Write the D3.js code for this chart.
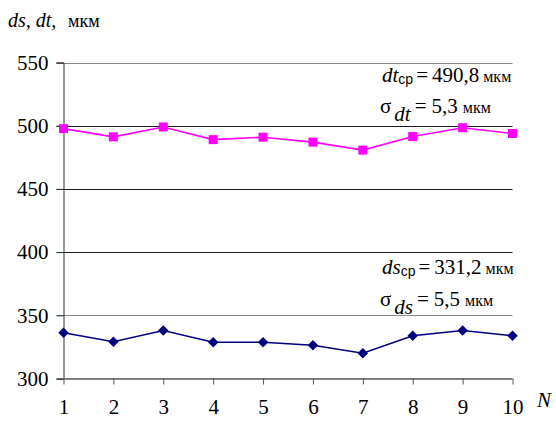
<!DOCTYPE html>
<html>
<head>
<meta charset="utf-8">
<script src="https://cdn.jsdelivr.net/npm/d3@7"></script>
<style>
  html, body { margin: 0; padding: 0; background: #fff; }
  svg { display: block; }
  svg text { font-family: 'Liberation Serif', 'Times New Roman', Times, serif; fill: #000; }
</style>
</head>
<body>
<svg id="chart" width="556" height="423"></svg>
<script>
// Sample numbers N = 1..10
const samples = [1, 2, 3, 4, 5, 6, 7, 8, 9, 10];
// dt values, мкм
const dtValues = [497.7, 491.2, 499.0, 489.0, 490.9, 487.0, 480.7, 491.4, 498.4, 493.8];
// ds values, мкм
const dsValues = [336.2, 329.1, 338.0, 328.7, 328.7, 326.3, 320.0, 333.8, 338.0, 333.8];
// Y axis tick values
const yTicks = [300, 350, 400, 450, 500, 550];
// Summary statistics shown beside each series
const dtStats = { mean: "490,8", sigma: "5,3" };
const dsStats = { mean: "331,2", sigma: "5,5" };

const SERIF = "'Liberation Serif', 'Times New Roman', Times, serif";
const SANS = "'Liberation Sans', Arial, sans-serif";

const svg = d3.select("#chart");

const x = d3.scaleLinear().domain([1, 10]).range([63.5, 512.5]);
const y = d3.scaleLinear().domain([300, 550]).range([378.5, 62.5]);

// Horizontal grid lines
svg.append("g")
  .selectAll("line")
  .data(yTicks)
  .join("line")
  .attr("x1", x(1) - 7).attr("x2", x(10))
  .attr("y1", d => Math.round(y(d)) + 0.5).attr("y2", d => Math.round(y(d)) + 0.5)
  .attr("stroke", d => (d === 550 || d === 350 || d === 300) ? "#8a8a8a" : "#1a1a1a")
  .attr("stroke-width", 1);

// Y axis
const yAxis = d3.axisLeft(y).tickValues(yTicks).tickSize(7).tickPadding(8).tickFormat(d3.format("d"));
const gy = svg.append("g").attr("transform", `translate(${x(1)},0)`).call(yAxis)
  .attr("font-family", SERIF).attr("font-size", 21);
gy.select(".domain").attr("stroke", "#333");
gy.selectAll(".tick line").attr("stroke", "#333");
gy.selectAll(".tick text").style("font-family", SERIF).attr("fill", "#000");

// X axis
const xAxis = d3.axisBottom(x).tickValues(samples).tickSize(6).tickPadding(15).tickFormat(d3.format("d"));
const gx = svg.append("g").attr("transform", `translate(0,${y(300)})`).call(xAxis)
  .attr("font-family", SERIF).attr("font-size", 21);
gx.select(".domain").attr("stroke", "#777").attr("d", `M${x(1)},0H${x(10)}`);
gx.selectAll(".tick line").attr("stroke", "#555");
gx.selectAll(".tick text").style("font-family", SERIF).attr("fill", "#000");

// Axis titles
svg.append("text").attr("x", 537).attr("y", 407).style("font-family", SERIF)
  .attr("font-size", 21).attr("font-style", "italic").text("N");

const yt = svg.append("text").attr("x", 8).attr("y", 27).style("font-family", SERIF).attr("font-size", 20);
yt.append("tspan").attr("font-style", "italic").text("ds, dt,");
yt.append("tspan").attr("x", 68).attr("font-size", 18).text("мкм");

// Series lines and markers
const line = d3.line().x((d, i) => x(samples[i])).y(d => y(d));

svg.append("path").datum(dtValues)
  .attr("d", line).attr("fill", "none")
  .attr("stroke", "#ff00ff").attr("stroke-width", 1.6);
svg.append("g").selectAll("rect").data(dtValues).join("rect")
  .attr("x", (d, i) => x(samples[i]) - 4.5)
  .attr("y", d => y(d) - 4.5)
  .attr("width", 9).attr("height", 9)
  .attr("fill", "#ff00ff");

svg.append("path").datum(dsValues)
  .attr("d", line).attr("fill", "none")
  .attr("stroke", "#000080").attr("stroke-width", 1.6);
const diamond = d3.symbol().type(d3.symbolDiamond2).size(70);
svg.append("g").selectAll("path").data(dsValues).join("path")
  .attr("d", diamond)
  .attr("transform", (d, i) => `translate(${x(samples[i])},${y(d)})`)
  .attr("fill", "#000080");

// Statistics labels
function statBlock(name, stats, xStart, yMean, ySigma) {
  const t1 = svg.append("text").attr("x", xStart).attr("y", yMean)
    .style("font-family", SERIF).attr("font-size", 21);
  t1.append("tspan").attr("font-style", "italic").text(name);
  t1.append("tspan").style("font-family", SANS)
    .attr("font-size", 14).attr("dy", 2).text("ср");
  t1.append("tspan").attr("dy", -2).attr("dx", 3).text("=");
  t1.append("tspan").attr("dx", 4).text(stats.mean);
  t1.append("tspan").attr("dx", 4).attr("font-size", 16).text("мкм");

  const t2 = svg.append("text").attr("x", xStart - 2).attr("y", ySigma)
    .style("font-family", SERIF).attr("font-size", 21);
  t2.append("tspan").text("σ");
  t2.append("tspan").attr("font-style", "italic").attr("dy", 8).attr("dx", 3).text(name);
  t2.append("tspan").attr("dy", -8).attr("dx", 4).text("=");
  t2.append("tspan").attr("dx", 5).text(stats.sigma);
  t2.append("tspan").attr("dx", 5).attr("font-size", 16).text("мкм");
}
statBlock("dt", dtStats, 382, 82, 113);
statBlock("ds", dsStats, 382, 274, 306);
</script>
</body>
</html>
